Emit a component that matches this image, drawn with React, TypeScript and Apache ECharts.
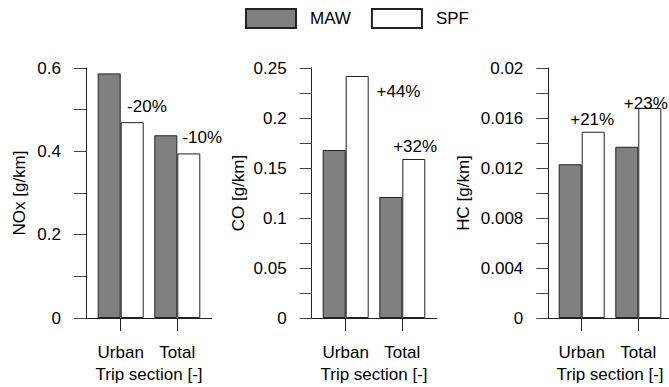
import React, { useEffect, useRef } from 'react';
import * as echarts from 'echarts';

const categories = ['Urban', 'Total'];
const seriesNames = ['MAW', 'SPF'];
const noxMAW = [0.587, 0.4385];
const noxSPF = [0.47, 0.395];
const coMAW = [0.168, 0.121];
const coSPF = [0.242, 0.159];
const hcMAW = [0.0123, 0.0137];
const hcSPF = [0.0149, 0.0168];
const noxChange = ['-20%', '-10%'];
const coChange = ['+44%', '+32%'];
const hcChange = ['+21%', '+23%'];
const yAxisNames = ['NOx [g/km]', 'CO [g/km]', 'HC [g/km]'];
const yMax = [0.6, 0.25, 0.02];
const yTickStep = [0.1, 0.025, 0.002];
const yLabelDecimals = [1, 2, 3];
const xAxisName = 'Trip section [-]';

const FONT = '"Liberation Sans", Arial, Helvetica, sans-serif';
const FS = 17;
const TOP = 68;
const HEIGHT = 250;

const panelLayout = [
  { axisLeft: 86, axisWidth: 125.7, barLeft: 92.4, nameGap: 58, labelOffsets: [[14.7, -7], [13.5, -7.3]] },
  { axisLeft: 311.7, axisWidth: 125, barLeft: 317.4, nameGap: 65, labelOffsets: [[41.3, 23.6], [1.3, -4.3]] },
  { axisLeft: 548.3, axisWidth: 125, barLeft: 553.4, nameGap: 76.5, labelOffsets: [[-1, -3.4], [-4, 4]] },
];
const BAR_BAND = 113.2;

export default function App() {
  const ref = useRef<HTMLDivElement>(null);
  useEffect(() => {
    if (!ref.current) return;
    const chart = echarts.init(ref.current, undefined, { renderer: 'svg' });
    const mawData = [noxMAW, coMAW, hcMAW];
    const spfData = [noxSPF, coSPF, hcSPF];
    const changes = [noxChange, coChange, hcChange];

    const grid: any[] = [];
    const xAxis: any[] = [];
    const yAxis: any[] = [];
    const series: any[] = [];

    panelLayout.forEach((p, i) => {
      grid.push({ left: p.axisLeft, top: TOP, width: p.axisWidth, height: HEIGHT, outerBoundsMode: 'none', containLabel: false });
      grid.push({ left: p.barLeft, top: TOP, width: BAR_BAND, height: HEIGHT, outerBoundsMode: 'none', containLabel: false });
      const dec = yLabelDecimals[i];
      yAxis.push({
        gridIndex: 2 * i,
        type: 'value',
        min: 0,
        max: yMax[i],
        interval: yTickStep[i],
        name: yAxisNames[i],
        nameLocation: 'middle',
        nameGap: p.nameGap,
        nameTextStyle: { fontFamily: FONT, fontSize: FS, color: '#000' },
        axisLine: { show: true, lineStyle: { color: '#222', width: 1 } },
        axisTick: { show: true, length: 12, lineStyle: { color: '#444', width: 1 } },
        axisLabel: {
          margin: 25,
          fontFamily: FONT,
          fontSize: FS,
          color: '#000',
          formatter: (v: number, idx: number) => (idx % 2 === 0 ? String(parseFloat(v.toFixed(dec))) : ''),
        },
        splitLine: { show: false },
      });
      yAxis.push({
        gridIndex: 2 * i + 1,
        type: 'value',
        min: 0,
        max: yMax[i],
        show: false,
      });
      xAxis.push({
        gridIndex: 2 * i,
        type: 'category',
        data: categories,
        axisLine: { show: true, onZero: false, lineStyle: { color: '#222', width: 1 } },
        axisTick: { show: false },
        axisLabel: { show: false },
        splitLine: { show: false },
      });
      xAxis.push({
        gridIndex: 2 * i + 1,
        type: 'category',
        data: categories,
        name: xAxisName,
        nameLocation: 'middle',
        nameGap: 48,
        nameTextStyle: { fontFamily: FONT, fontSize: FS, color: '#000' },
        axisLine: { show: false },
        axisTick: { show: true, alignWithLabel: true, interval: 0, length: 13, lineStyle: { color: '#222', width: 1 } },
        axisLabel: { interval: 0, hideOverlap: false, margin: 26, fontFamily: FONT, fontSize: FS, color: '#000' },
        splitLine: { show: false },
      });
      series.push({
        type: 'bar',
        name: seriesNames[0],
        xAxisIndex: 2 * i + 1,
        yAxisIndex: 2 * i + 1,
        data: mawData[i],
        barWidth: 23,
        barGap: '0%',
        itemStyle: { color: '#808080', borderColor: '#222', borderWidth: 1 },
        z: 3,
      });
      series.push({
        type: 'bar',
        name: seriesNames[1],
        xAxisIndex: 2 * i + 1,
        yAxisIndex: 2 * i + 1,
        data: spfData[i].map((v, k) => ({
          value: v,
          label: { offset: p.labelOffsets[k] },
        })),
        barWidth: 23,
        barGap: '0%',
        itemStyle: { color: '#ffffff', borderColor: '#222', borderWidth: 1 },
        label: {
          show: true,
          position: 'top',
          distance: 0,
          fontFamily: FONT,
          fontSize: FS,
          color: '#000',
          formatter: (prm: any) => changes[i][prm.dataIndex],
        },
        z: 3,
      });
    });

    chart.setOption({
      animation: false,
      backgroundColor: '#ffffff',
      textStyle: { fontFamily: FONT },
      legend: {
        data: seriesNames,
        left: 245,
        top: 8,
        padding: 0,
        icon: 'rect',
        itemWidth: 50,
        itemHeight: 19,
        itemGap: 20,
        selectedMode: false,
        textStyle: { fontFamily: FONT, fontSize: FS, color: '#000', padding: [0, 0, 0, 9] },
      },
      grid,
      xAxis,
      yAxis,
      series,
    });
    return () => chart.dispose();
  }, []);
  return <div ref={ref} style={{ position: 'fixed', left: 0, top: 0, width: 669, height: 387, background: '#fff' }} />;
}
